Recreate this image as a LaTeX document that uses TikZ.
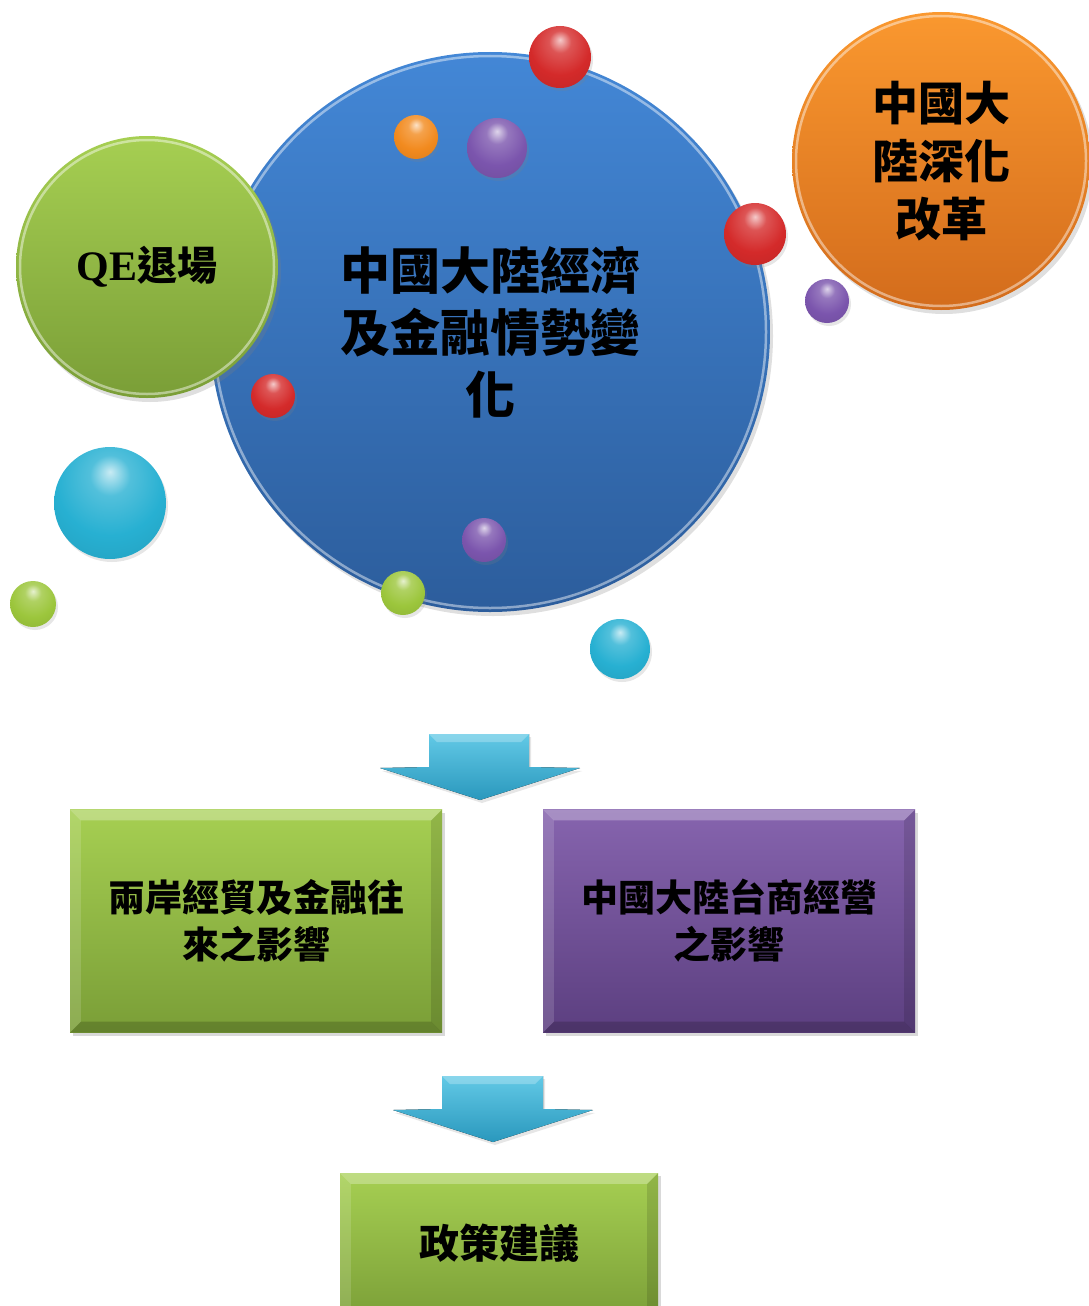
\documentclass[tikz,border=0pt]{standalone}
\usepackage{fontspec}
\newfontfamily\cjk{Noto Sans CJK TC}
\newfontfamily\qefont{Liberation Serif}
\usetikzlibrary{shadows,calc}
\definecolor{blueTop}{HTML}{4387D6}
\definecolor{blueBot}{HTML}{2C5D9C}
\definecolor{greenTop}{HTML}{A6CF52}
\definecolor{greenBot}{HTML}{7A9E37}
\definecolor{orangeTop}{HTML}{FA982F}
\definecolor{orangeBot}{HTML}{D36C1C}
\definecolor{purpleTop}{HTML}{8664AE}
\definecolor{purpleBot}{HTML}{5C3F80}
\definecolor{cyanTop}{HTML}{62C9E6}
\definecolor{cyanBot}{HTML}{2A98BD}
\definecolor{ballRed}{HTML}{D42A2A}
\definecolor{ballOrange}{HTML}{F28A1E}
\definecolor{ballPurple}{HTML}{7B55AD}
\definecolor{ballCyan}{HTML}{27B0D2}
\definecolor{ballGreen}{HTML}{9CC63C}
\colorlet{ballc}{red}
\pgfdeclareradialshading[ballc]{softball}{\pgfpoint{0bp}{14bp}}{%
  color(0bp)=(ballc!25!white); color(9bp)=(ballc!80!white); color(24bp)=(ballc);
  color(50bp)=(ballc!85!black); color(62bp)=(ballc!65!black); color(75bp)=(ballc!65!black)}
\newcommand\bevelbox[2]{%
  \fill[white,opacity=0.28] (#1.north west) -- (#1.north east) -- ($(#1.north east)+(-#2,#2)$) -- ($(#1.north west)+(#2,#2)$) -- cycle;
  \fill[white,opacity=0.14] (#1.north west) -- ($(#1.north west)+(#2,#2)$) -- ($(#1.south west)+(#2,-#2)$) -- (#1.south west) -- cycle;
  \fill[black,opacity=0.12] (#1.north east) -- ($(#1.north east)+(-#2,#2)$) -- ($(#1.south east)+(-#2,-#2)$) -- (#1.south east) -- cycle;
  \fill[black,opacity=0.18] (#1.south west) -- ($(#1.south west)+(#2,-#2)$) -- ($(#1.south east)+(-#2,-#2)$) -- (#1.south east) -- cycle;
}
\begin{document}
\begin{tikzpicture}[x=1pt,y=-1pt,
  bigcircle/.style={circle,inner sep=0pt,align=center,
    drop shadow={opacity=0.25,shadow xshift=3pt,shadow yshift=-4pt}},
  ballcol/.code={\colorlet{ballc}{#1}},
  ball/.style={circle,inner sep=0pt,shading=softball,
    drop shadow={opacity=0.2,shadow xshift=2pt,shadow yshift=-3pt}},
  box/.style={rectangle,inner sep=0pt,align=center,
    drop shadow={opacity=0.3,shadow xshift=3pt,shadow yshift=-3pt}},
  downarrow/.style={top color=cyanTop,bottom color=cyanBot,
    drop shadow={opacity=0.2,shadow xshift=2pt,shadow yshift=-3pt}},
  bigtext/.style={font=\cjk\bfseries\fontsize{50}{62}\selectfont},
  midtext/.style={font=\cjk\bfseries\fontsize{46}{58}\selectfont},
  boxtext/.style={font=\cjk\bfseries\fontsize{37}{47}\selectfont},
  rim/.style={white,opacity=0.45,line width=2.5pt}]
\path[use as bounding box] (0,0) rectangle (1089,1306);
\clip (0,0) rectangle (1089,1306);

% big circles
\node[bigcircle,top color=blueTop,bottom color=blueBot,minimum size=560pt,bigtext,text width=330pt]
  (econ) at (490,332) {中國大陸經濟\\及金融情勢變\\化};
\draw[rim] (econ.center) circle[radius=276pt];
\node[bigcircle,top color=greenTop,bottom color=greenBot,minimum size=262pt]
  (qe) at (147,267) {\qefont\bfseries\fontsize{42}{50}\selectfont QE\cjk\fontsize{40}{50}\selectfont 退場};
\draw[rim] (qe.center) circle[radius=127pt];
\node[bigcircle,top color=orangeTop,bottom color=orangeBot,minimum size=298pt,midtext,text width=160pt]
  (reform) at (941,161) {中國大\\陸深化\\改革};
\draw[rim] (reform.center) circle[radius=145pt];

% small balls
\node[ballcol=ballRed,ball,minimum size=62pt] (r1) at (560,57) {};
\node[ballcol=ballOrange,ball,minimum size=44pt] (o1) at (416,137) {};
\node[ballcol=ballPurple,ball,minimum size=60pt] (p1) at (497,148) {};
\node[ballcol=ballRed,ball,minimum size=62pt] (r2) at (755,234) {};
\node[ballcol=ballPurple,ball,minimum size=44pt] (p2) at (827,301) {};
\node[ballcol=ballRed,ball,minimum size=44pt] (r3) at (273,396) {};
\node[ballcol=ballCyan,ball,minimum size=112pt] (c1) at (110,503) {};
\node[ballcol=ballGreen,ball,minimum size=46pt] (g1) at (33,604) {};
\node[ballcol=ballPurple,ball,minimum size=44pt] (p3) at (484,540) {};
\node[ballcol=ballGreen,ball,minimum size=44pt] (g2) at (403,593) {};
\node[ballcol=ballCyan,ball,minimum size=60pt] (c2) at (620,649) {};

% first arrow
\coordinate (a1) at (480,734);
\fill[downarrow] ($(a1)+(-51,0)$) -- ($(a1)+(49,0)$) -- ($(a1)+(49,33)$) -- ($(a1)+(100,34)$)
  -- ($(a1)+(0,66)$) -- ($(a1)+(-100,34)$) -- ($(a1)+(-51,33)$) -- cycle;
\fill[white,opacity=0.25] ($(a1)+(-51,0)$) -- ($(a1)+(49,0)$) -- ($(a1)+(41,8)$) -- ($(a1)+(-43,8)$) -- cycle;

% boxes
\node[box,top color=greenTop,bottom color=greenBot,minimum width=372pt,minimum height=223pt,boxtext,text width=340pt]
  (trade) at (256,921) {兩岸經貿及金融往\\來之影響};
\bevelbox{trade}{11}
\node[box,top color=purpleTop,bottom color=purpleBot,minimum width=372pt,minimum height=223pt,boxtext,text width=340pt]
  (taishang) at (729,921) {中國大陸台商經營\\之影響};
\bevelbox{taishang}{11}

% second arrow
\coordinate (a2) at (493,1076);
\fill[downarrow] ($(a2)+(-51,0)$) -- ($(a2)+(50,0)$) -- ($(a2)+(50,33)$) -- ($(a2)+(100,34)$)
  -- ($(a2)+(0,66)$) -- ($(a2)+(-100,34)$) -- ($(a2)+(-51,33)$) -- cycle;
\fill[white,opacity=0.25] ($(a2)+(-51,0)$) -- ($(a2)+(50,0)$) -- ($(a2)+(42,8)$) -- ($(a2)+(-43,8)$) -- cycle;

% final box (bottom runs off the page)
\node[box,top color=greenTop,bottom color=greenBot,minimum width=318pt,minimum height=150pt,
  font=\cjk\bfseries\fontsize{40}{48}\selectfont]
  (policy) at (499,1248) {\raisebox{14pt}{政策建議}};
\bevelbox{policy}{11}
\end{tikzpicture}
\end{document}
